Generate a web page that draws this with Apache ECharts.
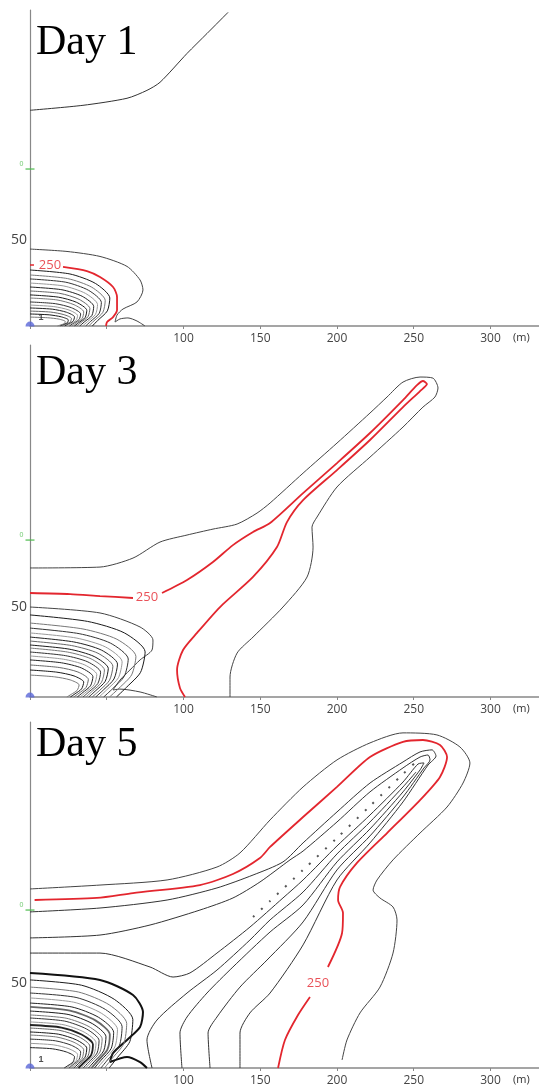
<!DOCTYPE html>
<html lang="en" style="height: 100%">
<head>
  <meta charset="utf-8">
  <title>Contours Day 1 / Day 3 / Day 5</title>
</head>
<body style="height: 100%; margin: 0; background: #fff">
  <div id="container" style="width: 539px; height: 1088px"></div>

  <script type="text/javascript" src="https://cdn.jsdelivr.net/npm/echarts@6/dist/echarts.min.js"></script>

  <script type="text/javascript">
    // all coordinates in metres
    var days = ['Day 1', 'Day 3', 'Day 5'];
    var xTicks = [100, 150, 200, 250, 300];
    var yTicks = [50];
    var yMax = [184, 195.6, 203.5];
    var xMax = 331.6;

    // ---- Day 1 ----
    var d1Far = [[0,125.6],[34.5,128.5],[63.2,132.6],[76.2,137.2],[84.7,141.9],[102.3,158.7],[115.3,170.3],[129,182.6]];
    var d1Outer = [[0,44.8],[24.1,43.4],[45.6,40.5],[63.2,34.7],[71.7,26.8],[73.6,21],[69.7,14],[60.6,9.9],[56.7,6.4],[55.4,2.3],[58.6,4.1],[63.8,4.7],[69.7,2.9],[74.9,0]];
    var d1RedA = [[0,35.5],[2.6,35.5]];
    var d1RedB = [[21.5,34.4],[37.1,32],[45.6,28.5],[54.1,22.7],[56.7,16.9],[56.7,9.3],[54.1,5.2],[50.2,2.3],[49.5,0]];
    var d1Label = [13, 35.5];
    var d1Inner = [
      [[0,32.6],[26,30.3],[42.6,24.8],[52,16.3],[50.4,8.8],[44.2,3.3],[40.6,0]],
      [[0,29.7],[24.5,27.6],[40.2,22.6],[49,14.9],[47.5,8],[41.7,3],[38.2,0]],
      [[0,27.4],[23.3,25.5],[38.1,20.8],[46.5,13.7],[45.1,7.4],[39.5,2.7],[36.3,0]],
      [[0,25],[22,23.3],[36.1,19],[44,12.5],[42.7,6.8],[37.4,2.5],[34.3,0]],
      [[0,22.7],[20.8,21.1],[34,17.3],[41.5,11.4],[40.3,6.1],[35.3,2.3],[32.4,0]],
      [[0,20.4],[19.5,19],[32,15.5],[39,10.2],[37.8,5.5],[33.2,2],[30.4,0]],
      [[0,18.1],[18.5,16.8],[30.3,13.8],[37,9.1],[35.9,4.9],[31.5,1.8],[28.9,0]],
      [[0,16.3],[17.5,15.2],[28.7,12.4],[35,8.2],[34,4.4],[29.8,1.6],[27.3,0]],
      [[0,14],[16.5,13],[27.1,10.6],[33,7],[32,3.8],[28,1.4],[25.7,0]],
      [[0,12.2],[15.5,11.3],[25.4,9.3],[31,6.1],[30.1,3.3],[26.4,1.2],[24.2,0]],
      [[0,10.5],[14.5,9.8],[23.8,8],[29,5.3],[28.1,2.8],[24.7,1.1],[22.6,0]],
      [[0,8.7],[13.5,8.1],[22.1,6.6],[27,4.4],[26.2,2.3],[23,0.9],[21.1,0]],
      [[0,7],[12.5,6.5],[20.5,5.3],[25,3.5],[24.3,1.9],[21.3,0.7],[19.5,0]],
      [[0,5.2],[11.5,4.8],[18.9,4],[23,2.6],[22.3,1.4],[19.6,0.5],[17.9,0]]
    ];

    // ---- Day 3 ----
    var d3Outer = [[0,71.7],[45.6,72.2],[67.1,77.2],[84.7,86.1],[102.3,90],[119.2,93.3],[134.9,96.1],[147.9,102.2],[156.4,107.8],[177.9,124.4],[200,141.1],[221.5,157.8],[232.6,166.7],[243,175],[254.1,177.8],[262.5,177.2],[265.8,171.7],[263.8,166.7],[256,161.1],[243,150],[221.5,133.3],[200,116.7],[187,100],[183.7,94.4],[184.4,83.3],[180.5,66.7],[164.8,50],[145.3,33.3],[134.9,24.4],[130.3,11.1],[130.3,0]];
    var d3RedA = [[0,57.8],[26.1,57.2],[45.6,56.1],[67.1,55]];
    var d3RedB = [[86,57.8],[102.3,65],[119.2,75],[132.2,84.4],[145.3,91.7],[156.4,96.7],[177.9,113.3],[200,130],[221.5,146.7],[243,165],[252.1,173.3],[256,175.6],[258.6,173.9],[254.1,170],[243,161.1],[221.5,142.8],[200,126.1],[177.9,109.4],[167.4,97.2],[160.9,83.3],[145.3,66.7],[123.8,50],[108.8,35.6],[99.7,26.1],[95.8,15],[97.7,5],[101,0]];
    var d3Label = [76.2, 55.6];
    var d3Near = [[0,50],[45.6,46.7],[71.7,38.9],[80.1,31.7],[79.5,26.1],[71.7,20.6],[65.1,15],[58.6,9.4],[54.1,3.9],[58.6,4.4],[71.7,2.8],[82.7,0]];
    var d3Inner = [
      [[0,45.6],[37.5,42],[61.5,35.6],[75,25.1],[72,13.7],[63,5.5],[56.3,0]],
      [[0,41.1],[34.5,37.8],[56.6,32.1],[69,22.6],[66.2,12.3],[58,4.9],[51.8,0]],
      [[0,38.3],[32,35.2],[52.5,29.9],[64,21.1],[61.4,11.5],[53.8,4.6],[48,0]],
      [[0,35.6],[30,32.8],[49.2,27.8],[60,19.6],[57.6,10.7],[50.4,4.3],[45,0]],
      [[0,33.3],[28.5,30.6],[46.7,26],[57,18.3],[54.7,10],[47.9,4],[42.8,0]],
      [[0,31.1],[27,28.6],[44.3,24.3],[54,17.1],[51.8,9.3],[45.4,3.7],[40.5,0]],
      [[0,28.9],[25.5,26.6],[41.8,22.5],[51,15.9],[49,8.7],[42.8,3.5],[38.3,0]],
      [[0,27.2],[24.3,25],[39.8,21.2],[48.5,15],[46.6,8.2],[40.7,3.3],[36.4,0]],
      [[0,25],[23,23],[37.7,19.5],[46,13.8],[44.2,7.5],[38.6,3],[34.5,0]],
      [[0,22.8],[21.8,21],[35.7,17.8],[43.5,12.5],[41.8,6.8],[36.5,2.7],[32.6,0]],
      [[0,20.6],[20.5,19],[33.6,16.1],[41,11.3],[39.4,6.2],[34.4,2.5],[30.8,0]],
      [[0,17.8],[19,16.4],[31.2,13.9],[38,9.8],[36.5,5.3],[31.9,2.1],[28.5,0]],
      [[0,15],[17.5,13.8],[28.7,11.7],[35,8.3],[33.6,4.5],[29.4,1.8],[26.3,0]],
      [[0,12.2],[16,11.2],[26.2,9.5],[32,6.7],[30.7,3.7],[26.9,1.5],[24,0]]
    ];

    // ---- Day 5 ----
    var d5Outer = [[0,105.3],[45.6,107.6],[89.3,110.6],[121.8,118.2],[136.8,126.5],[156.4,145.9],[177.9,165.3],[200,181.2],[221.5,191.2],[243,197.1],[265.1,195.9],[280.1,188.8],[286.6,179.4],[282.1,167.6],[271.7,153.5],[254.1,138.2],[236.5,122.4],[226.1,110.6],[223.5,104.7],[228,100],[236.5,94.7],[239.1,87.1],[236.5,67.6],[228,47.6],[215,32.4],[206.5,16.5],[203.3,4.7]];
    var d5RedA = [[3,98.8],[43.6,100],[67.1,102.9],[110.7,107.6],[132.2,114.1],[149.8,123.5],[156.4,130],[177.9,147.6],[200,165.3],[221.5,182.9],[243,191.8],[256,192.9],[267.1,190],[271.7,182.9],[267.1,171.2],[254.1,157.6],[232.6,138.2],[213,120.6],[202,106.5],[200.7,98.8],[203.9,91.2],[203.3,79.4],[194.1,59.4]];
    var d5RedB = [[182.4,41.8],[174.6,31.2],[166.1,16.5],[161.6,0]];
    var d5Label = [187.6, 50];
    var d5Loop1 = [[0,91.8],[45.6,94.1],[89.3,98.8],[121.8,105.9],[145.3,113.5],[164.8,121.2],[177.9,132.4],[200,150.6],[221.5,167.6],[243,180],[254.1,185.9],[261.9,187.1],[264.5,183.5],[259.3,178.2],[243,156.5],[221.5,132.4],[200,110.6],[177.9,72.4],[156.4,44.1],[143.3,32.4],[136.8,20.6],[136.8,0]];
    var d5Loop2 = [[0,76.5],[45.6,78.2],[78.2,84.1],[110.7,92.9],[132.2,100],[149.8,109.4],[169.4,122.4],[177.9,127.6],[200,144.7],[221.5,162.4],[243,176.5],[254.1,182.9],[259.3,184.1],[260.6,181.2],[256.7,176.5],[243,159.4],[221.5,136.5],[200,116.5],[177.9,85.9],[154.4,63.5],[136.8,47.6],[121.8,30],[116,20.6],[117.3,0]];
    var d5Loop3 = [[0,67.6],[45.6,67.6],[78.2,59.4],[93.2,53.5],[104.2,55.9],[121.8,67.6],[143.3,82.9],[164.8,100],[177.9,110.6],[200,130.6],[221.5,148.8],[243,168.2],[252.8,178.8],[256.7,179.4],[254.1,175.3],[243,162.4],[221.5,140.6],[200,121.2],[177.9,95.9],[156.4,80],[132.2,59.4],[115.3,44.1],[102.3,30],[97.7,20.6],[99,0]];
    var d5Vee = [[79.5,0],[76.2,16.5],[82.7,28.2],[102.3,44.1],[121.8,57.6],[143.3,75.3],[156.4,87.1],[177.9,103.5],[200,125.9],[221.5,144.7],[243,165.3],[251.5,174.1]];
    var d5Ridge = [[145.3,88.8],[156.4,98.2],[177.9,116.5],[200,135.3],[221.5,154.1],[243,172.9],[252.8,181.2]];
    var d5Near = [[0,55.9],[45.6,51.8],[67.1,42.9],[73.6,32.9],[71.7,24.1],[63.2,16.5],[54.1,8.8],[52.1,3.5],[63.2,6.5],[71.7,3.5],[76.2,0]];
    var d5Inner = [
      [[0,51.8],[33.5,48.7],[54.9,40.4],[67,28.5],[65,15.5],[57,6.2],[51.6,0]],
      [[0,47.6],[31.5,44.7],[51.7,37.1],[63,26.2],[61.1,14.3],[53.6,5.7],[48.5,0]],
      [[0,44.1],[30,41.5],[49.2,34.4],[60,24.3],[58.2,13.2],[51,5.3],[46.2,0]],
      [[0,41.2],[28.5,38.7],[46.7,32.1],[57,22.7],[55.3,12.4],[48.5,4.9],[43.9,0]],
      [[0,38.2],[27.3,35.9],[44.7,29.8],[54.5,21],[52.9,11.5],[46.3,4.6],[42,0]],
      [[0,35.9],[26,33.7],[42.6,28],[52,19.7],[50.4,10.8],[44.2,4.3],[40,0]],
      [[0,33.5],[24.8,31.5],[40.6,26.1],[49.5,18.4],[48,10.1],[42.1,4],[38.1,0]],
      [[0,31.2],[23.5,29.3],[38.5,24.3],[47,17.2],[45.6,9.4],[40,3.7],[36.2,0]],
      [[0,29.4],[22.5,27.6],[36.9,22.9],[45,16.2],[43.7,8.8],[38.3,3.5],[34.7,0]],
      [[0,27.1],[21.5,25.5],[35.3,21.1],[43,14.9],[41.7,8.1],[36.6,3.3],[33.1,0]],
      [[0,25.3],[20.5,23.8],[33.6,19.7],[41,13.9],[39.8,7.6],[34.9,3],[31.6,0]],
      [[0,23.5],[19.5,22.1],[32,18.3],[39,12.9],[37.8,7.1],[33.2,2.8],[30,0]],
      [[0,21.2],[18.5,19.9],[30.3,16.5],[37,11.7],[35.9,6.4],[31.5,2.5],[28.5,0]],
      [[0,19.4],[17.5,18.2],[28.7,15.1],[35,10.7],[34,5.8],[29.8,2.3],[27,0]],
      [[0,17],[16.5,16],[27.1,13.3],[33,9.4],[32,5.1],[28.1,2],[25.4,0]],
      [[0,14.5],[15.5,13.6],[25.4,11.3],[31,8],[30.1,4.4],[26.4,1.7],[23.9,0]],
      [[0,12],[14.5,11.3],[23.8,9.4],[29,6.6],[28.1,3.6],[24.7,1.4],[22.3,0]]
    ];

    // markers on the y axis (well / source)
    var greenMark = [91.4, 87.2, 92.9];

    var RED = '#e3262e';
    var innerColors = ['#1a1a1a', '#777', '#333', '#999', '#222', '#666'];

    var dom = document.getElementById('container');
    var myChart = echarts.init(dom, null, { renderer: 'canvas' });

    function contour(data, gi, color, width, dash) {
      return {
        type: 'line', xAxisIndex: gi, yAxisIndex: gi, data: data,
        symbol: 'none', smooth: 0.25, silent: true, z: 3,
        lineStyle: { color: color, width: width, type: dash || 'solid' }
      };
    }
    function redLabel(pt, gi) {
      return {
        type: 'scatter', xAxisIndex: gi, yAxisIndex: gi, data: [pt],
        symbolSize: 1, itemStyle: { color: 'transparent' }, silent: true, z: 5,
        label: { show: true, position: 'inside', formatter: '250', color: RED,
          fontSize: 13, fontFamily: 'Open Sans' }
      };
    }
    function marks(gi) {
      return [{
        type: 'scatter', xAxisIndex: gi, yAxisIndex: gi, data: [[0, 0]],
        symbol: 'path://M0,10 A10,10 0 0 1 20,10 Z', symbolSize: [9, 5], symbolOffset: [0, -2],
        itemStyle: { color: '#5a66d8' }, silent: true, z: 6,
        label: { show: gi !== 1, formatter: '1', position: 'right', offset: [-1, -6], fontSize: 9,
          fontWeight: 'bold', color: '#222' }
      }, {
        type: 'scatter', xAxisIndex: gi, yAxisIndex: gi, data: [[0, greenMark[gi]]],
        symbol: 'rect', symbolSize: [9, 1.5], itemStyle: { color: '#4cbb4c' }, silent: true, z: 6,
        label: { show: true, formatter: '0', position: 'left', offset: [3, -5], fontSize: 7, color: '#4cbb4c' }
      }];
    }

    var series = [];
    // Day 1
    series.push(contour(d1Far, 0, '#333', 1));
    d1Inner.forEach(function (d, i) { series.push(contour(d, 0, innerColors[i % innerColors.length], 1)); });
    series.push(contour(d1Outer, 0, '#444', 1));
    series.push(contour(d1RedA, 0, RED, 1.5));
    series.push(contour(d1RedB, 0, RED, 1.8));
    series.push(redLabel(d1Label, 0));
    // Day 3
    series.push(contour(d3Outer, 1, '#444', 1));
    series.push(contour(d3RedA, 1, RED, 1.8));
    series.push(contour(d3RedB, 1, RED, 1.8));
    series.push(redLabel(d3Label, 1));
    series.push(contour(d3Near, 1, '#444', 1));
    d3Inner.forEach(function (d, i) { series.push(contour(d, 1, innerColors[i % innerColors.length], 1)); });
    // Day 5
    series.push(contour(d5Outer, 2, '#444', 1));
    series.push(contour(d5RedA, 2, RED, 1.8));
    series.push(contour(d5RedB, 2, RED, 1.8));
    series.push(redLabel(d5Label, 2));
    series.push(contour(d5Loop1, 2, '#333', 1));
    series.push(contour(d5Loop2, 2, '#333', 1));
    series.push(contour(d5Loop3, 2, '#333', 1));
    series.push(contour(d5Vee, 2, '#333', 1));
    series.push(contour(d5Ridge, 2, '#555', 2, [2, 9]));
    series.push(contour(d5Near, 2, '#111', 2));
    d5Inner.forEach(function (d, i) {
      series.push(contour(d, 2, innerColors[i % innerColors.length], (i === 5 || i === 10) ? 1.8 : 1));
    });
    [0, 1, 2].forEach(function (g) { series = series.concat(marks(g)); });

    var tops = [10, 345, 722];
    var heights = [316, 352, 346];
    var titleTops = [22, 352, 724];

    var option = {
      animation: false,
      backgroundColor: '#fff',
      title: days.map(function (d, i) {
        return { text: d, left: 36, top: titleTops[i], padding: 0,
          textStyle: { fontFamily: 'Liberation Serif', fontWeight: 'normal', fontSize: 42, color: '#000' } };
      }),
      grid: tops.map(function (t, i) {
        return { left: 30, top: t, width: 509, height: heights[i] };
      }),
      xAxis: tops.map(function (t, i) {
        return {
          type: 'value', gridIndex: i, min: 0, max: xMax, interval: 50,
          name: '(m)', nameLocation: 'end', nameGap: -26,
          nameTextStyle: { color: '#333', fontSize: 11, fontFamily: 'Open Sans', verticalAlign: 'top', padding: [6, 0, 0, 0] },
          axisLine: { lineStyle: { color: '#888', width: 1.5 } },
          axisTick: { length: 3, lineStyle: { color: '#888' } },
          splitLine: { show: false },
          axisLabel: {
            color: '#444', fontSize: 12, fontFamily: 'Open Sans', margin: 7,
            showMaxLabel: false,
            formatter: function (v) { return xTicks.indexOf(v) >= 0 ? String(v) : ''; }
          }
        };
      }),
      yAxis: tops.map(function (t, i) {
        return {
          type: 'value', gridIndex: i, min: 0, max: yMax[i], interval: 50,
          axisLine: { show: true, lineStyle: { color: '#888', width: 1.2 } },
          axisTick: { show: false },
          splitLine: { show: false },
          axisLabel: {
            color: '#444', fontSize: 14, fontFamily: 'Open Sans', margin: 3,
            showMaxLabel: false,
            formatter: function (v) { return yTicks.indexOf(v) >= 0 ? String(v) : ''; }
          }
        };
      }),
      series: series
    };

    myChart.setOption(option);
    window.addEventListener('resize', function () { myChart.resize(); });
  </script>
</body>
</html>
